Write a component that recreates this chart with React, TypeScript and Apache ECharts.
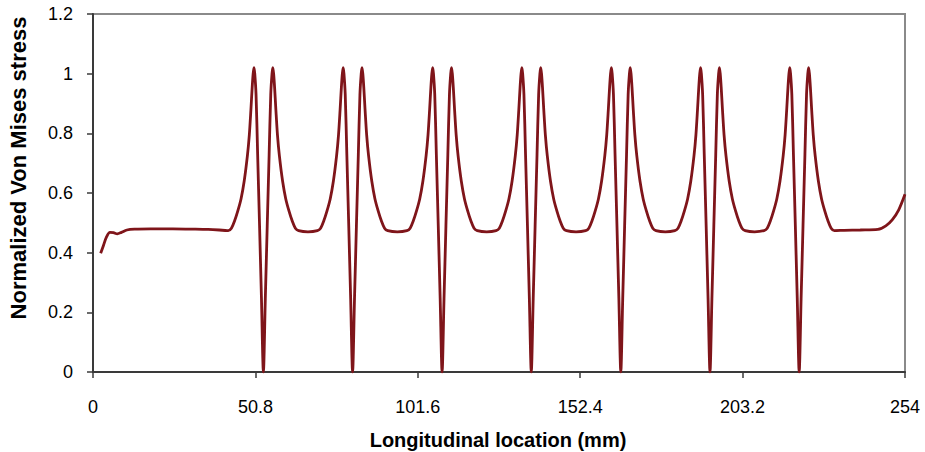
import React, { useEffect, useRef } from "react";
import * as echarts from "echarts";

// Tick labels
const xTickLabels = ["0", "50.8", "101.6", "152.4", "203.2", "254"];
const yTickLabels = ["0", "0.2", "0.4", "0.6", "0.8", "1", "1.2"];

// Start of the curve (mm, stress)
const startX = [2.4, 3.3, 4.2, 5.3, 6.4, 7.6, 8.9, 10.6, 13, 18, 25, 32, 36, 39.5, 42];
const startY = [0.398, 0.425, 0.452, 0.468, 0.467, 0.463, 0.468, 0.476, 0.479, 0.48, 0.48, 0.479, 0.478, 0.476, 0.474];

// Centres of the seven zero-stress dips (mm)
const dipCenters = [53.3, 81.2, 109.2, 137.1, 165.1, 193.0, 220.9];

// Shape of one double peak around a dip
const profileOffsets = [-11, -10, -9, -8, -7, -6, -5, -4.4, -3.9, -3.5, -3.2, -2.95, -2.7, -2.3, -1.8, -1.2, -0.6, 0, 0.6, 1.2, 1.8, 2.3, 2.7, 2.95, 3.2, 3.5, 3.9, 4.4, 5, 6, 7, 8, 9, 10, 11];
const profileValues = [0.474, 0.482, 0.507, 0.54, 0.58, 0.64, 0.725, 0.795, 0.88, 0.955, 1.0, 1.02, 1.0, 0.93, 0.73, 0.49, 0.245, 0, 0.245, 0.49, 0.73, 0.93, 1.0, 1.02, 1.0, 0.955, 0.88, 0.795, 0.725, 0.64, 0.58, 0.54, 0.507, 0.482, 0.474];

// Flat level midway between consecutive dips
const gapValues = [0.470, 0.470, 0.470, 0.470, 0.470, 0.470];

// End of the curve
const endX = [235, 240, 245.5, 248, 250, 252, 254];
const endY = [0.475, 0.476, 0.478, 0.49, 0.51, 0.543, 0.596];

function buildData(): number[][] {
  const d: number[][] = [];
  startX.forEach((x, i) => d.push([x, startY[i]]));
  dipCenters.forEach((c, i) => {
    profileOffsets.forEach((o, j) => d.push([+(c + o).toFixed(2), profileValues[j]]));
    if (i < dipCenters.length - 1) {
      d.push([+((c + dipCenters[i + 1]) / 2).toFixed(2), gapValues[i]]);
    }
  });
  endX.forEach((x, i) => d.push([x, endY[i]]));
  return d;
}

export default function App() {
  const ref = useRef<HTMLDivElement>(null);
  useEffect(() => {
    if (!ref.current) return;
    const chart = echarts.init(ref.current, null, { renderer: "svg" });
    const font = "'Liberation Sans', Arial, sans-serif";
    chart.setOption({
      animation: false,
      grid: {
        left: 93,
        right: 20,
        top: 14,
        bottom: 80,
        show: true,
        borderColor: "#8a8a8a",
        borderWidth: 2,
        containLabel: false,
      },
      xAxis: {
        type: "value",
        min: 0,
        max: 254,
        interval: 50.8,
        splitLine: { show: false },
        axisLine: { show: true, onZero: false, lineStyle: { color: "#3a3a3a", width: 2 } },
        axisTick: { show: true, inside: false, length: 6, lineStyle: { color: "#3a3a3a", width: 1.5 } },
        axisLabel: {
          margin: 26,
          fontSize: 18,
          fontFamily: font,
          color: "#000",
          formatter: (v: number) => {
            const idx = Math.round(v / 50.8);
            return xTickLabels[idx] ?? "";
          },
        },
      },
      yAxis: {
        type: "value",
        min: 0,
        max: 1.2,
        interval: 0.2,
        splitLine: { show: false },
        axisLine: { show: true, onZero: false, lineStyle: { color: "#3a3a3a", width: 2 } },
        axisTick: { show: true, inside: false, length: 6, lineStyle: { color: "#3a3a3a", width: 1.5 } },
        axisLabel: {
          margin: 20,
          fontSize: 18,
          fontFamily: font,
          color: "#000",
          formatter: (v: number) => {
            const idx = Math.round(v / 0.2);
            return yTickLabels[idx] ?? "";
          },
        },
      },
      graphic: [
        {
          type: "text",
          x: 498,
          y: 440,
          style: {
            text: "Longitudinal location (mm)",
            fontSize: 20,
            fontWeight: "bold",
            fontFamily: font,
            fill: "#000",
            textAlign: "center",
            textVerticalAlign: "middle",
          },
        },
        {
          type: "text",
          x: 18,
          y: 168,
          rotation: Math.PI / 2,
          style: {
            text: "Normalized Von Mises stress",
            fontSize: 22,
            fontWeight: "bold",
            fontFamily: font,
            fill: "#000",
            textAlign: "center",
            textVerticalAlign: "middle",
          },
        },
      ],
      series: [
        {
          type: "line",
          data: buildData(),
          showSymbol: false,
          smooth: 0.3,
          lineStyle: { color: "#7f151a", width: 2.8 },
          itemStyle: { color: "#7f151a" },
        },
      ],
    });
    return () => chart.dispose();
  }, []);
  return <div ref={ref} style={{ width: 925, height: 452, position: "absolute", left: 0, top: 0 }} />;
}
